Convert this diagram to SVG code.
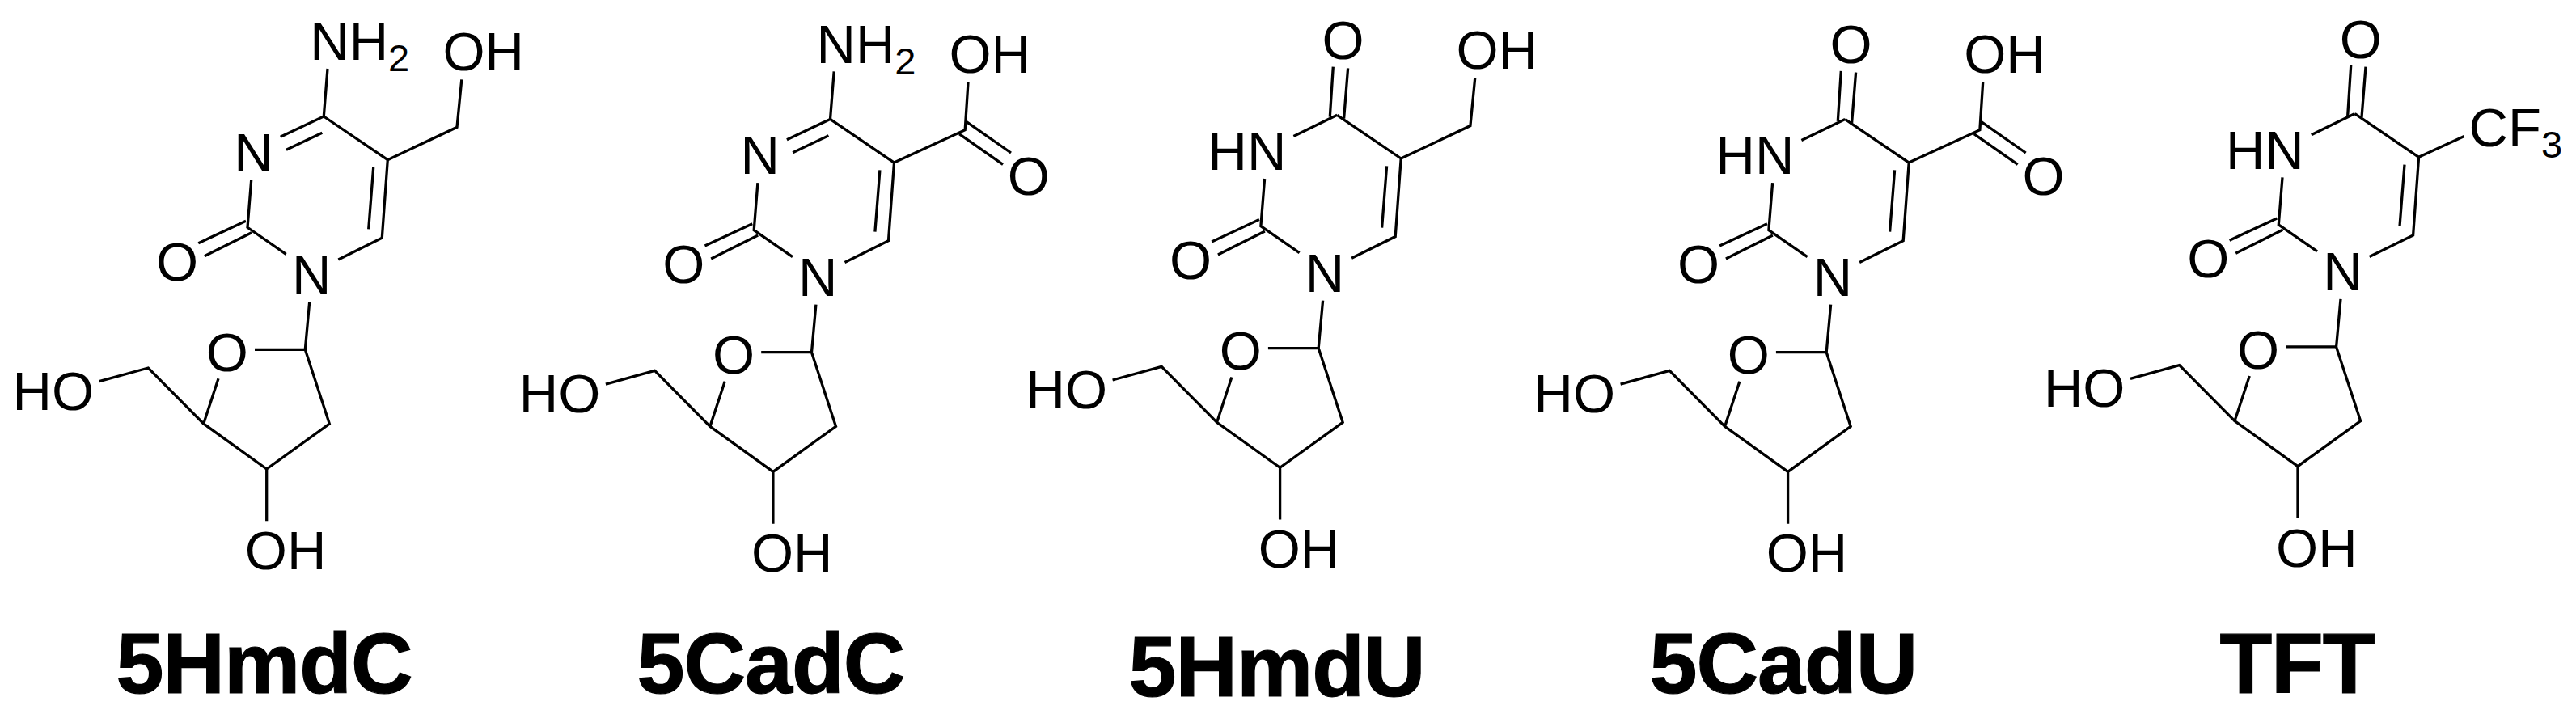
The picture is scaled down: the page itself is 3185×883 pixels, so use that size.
<svg xmlns="http://www.w3.org/2000/svg" width="3185" height="883" viewBox="0 0 3185 883">
<style>
text{font-family:"Liberation Sans",Arial,sans-serif;fill:#000}
.a{font-size:67px}
.s{font-size:47px}
.t{font-size:106px;font-weight:bold;text-anchor:middle;stroke:#000;stroke-width:1.2;letter-spacing:-1px}
.b{fill:none;stroke:#000;stroke-width:3.3;stroke-linejoin:miter;stroke-linecap:butt}
</style>
<defs>
<path id="core" class="b" d="M400.3 144L479.3 197.7L472.3 294.3L418.3 321M461.7 207L455.7 283.3M310.7 222.7L306 281.3L353.7 314.3M304 273.3L245.3 300.7M311 287.7L253 316.7M382.7 373.3L377.3 432.3L315 432.3M377.3 432.3L407.3 524L329.7 580L251.7 524L270 468.3M251.7 524L183.3 455L122.7 471.7M329.7 580V644.3"/>
<path id="cyt" class="b" d="M405 85L400.3 144L346.7 169.3M398.3 164.3L354 185.3"/>
<path id="ura" class="b" d="M395.4 84.4L391.4 146.4M413.7 86.1L408.7 148.4M400.3 144L346.5 170.1"/>
<path id="hm" class="b" d="M479.3 197.7L565 157.3L570.8 98.3"/>
<path id="ca" class="b" d="M479.3 197.7L567 157.3L570.8 98.3M568.8 147.3L623.8 185.6M559.8 162.3L613.8 199.9"/>
</defs>
<g id="connectors">
<g id="bonds-5HmdC"><use href="#core"/><use href="#cyt"/><use href="#hm"/></g>
<g id="bonds-5CadC" transform="translate(626.2 3.4)"><use href="#core"/><use href="#cyt"/><use href="#ca"/></g>
<g id="bonds-5HmdU" transform="translate(1252.9 -1.7)"><use href="#core"/><use href="#ura"/><use href="#hm"/></g>
<g id="bonds-5CadU" transform="translate(1880.9 3.4)"><use href="#core"/><use href="#ura"/><use href="#ca"/></g>
<g id="bonds-TFT" transform="translate(2511.3 -3.4)"><use href="#core"/><use href="#ura"/><path class="b" d="M479.3 197.7L535.4 172"/></g>
</g>
<g id="mol-5HmdC">
<text class="a" x="383.3" y="74.3">NH<tspan class="s" dy="14">2</tspan></text>
<text class="a" x="547.5" y="87">OH</text>
<text class="a" x="289.2" y="212">N</text>
<text class="a" x="193" y="346.5">O</text>
<text class="a" x="360.9" y="362.5">N</text>
<text class="a" x="254.8" y="459">O</text>
<text class="a" x="15.6" y="506.8">HO</text>
<text class="a" x="302.8" y="704">OH</text>
</g>
<g id="mol-5CadC" transform="translate(626.2 3.4)">
<text class="a" x="383.3" y="74.3">NH<tspan class="s" dy="14">2</tspan></text>
<text class="a" x="547.3" y="87">OH</text>
<text class="a" x="619.5" y="237.6">O</text>
<text class="a" x="289.2" y="212">N</text>
<text class="a" x="193" y="346.5">O</text>
<text class="a" x="360.9" y="362.5">N</text>
<text class="a" x="254.8" y="459">O</text>
<text class="a" x="15.6" y="506.8">HO</text>
<text class="a" x="302.8" y="704">OH</text>
</g>
<g id="mol-5HmdU" transform="translate(1252.9 -1.7)">
<text class="a" x="381.5" y="75">O</text>
<text class="a" x="547.5" y="87">OH</text>
<text class="a" x="240.7" y="212">HN</text>
<text class="a" x="193" y="346.5">O</text>
<text class="a" x="360.9" y="362.5">N</text>
<text class="a" x="254.8" y="459">O</text>
<text class="a" x="15.6" y="506.8">HO</text>
<text class="a" x="302.8" y="704">OH</text>
</g>
<g id="mol-5CadU" transform="translate(1880.9 3.4)">
<text class="a" x="381.5" y="75">O</text>
<text class="a" x="547.3" y="87">OH</text>
<text class="a" x="619.5" y="237.6">O</text>
<text class="a" x="240.7" y="212">HN</text>
<text class="a" x="193" y="346.5">O</text>
<text class="a" x="360.9" y="362.5">N</text>
<text class="a" x="254.8" y="459">O</text>
<text class="a" x="15.6" y="506.8">HO</text>
<text class="a" x="302.8" y="704">OH</text>
</g>
<g id="mol-TFT" transform="translate(2511.3 -3.4)">
<text class="a" x="381.5" y="75">O</text>
<text class="a" x="541.3" y="184">CF<tspan class="s" dy="14.4">3</tspan></text>
<text class="a" x="240.7" y="212">HN</text>
<text class="a" x="193" y="346.5">O</text>
<text class="a" x="360.9" y="362.5">N</text>
<text class="a" x="254.8" y="459">O</text>
<text class="a" x="15.6" y="506.8">HO</text>
<text class="a" x="302.8" y="704">OH</text>
</g>
<g id="titles">
<text class="t" x="326.5" y="856.8">5HmdC</text>
<text class="t" x="953" y="856.8">5CadC</text>
<text class="t" x="1578.6" y="860.5">5HmdU</text>
<text class="t" x="2205" y="856.8">5CadU</text>
<text class="t" x="2840" y="856.8">TFT</text>
</g>
</svg>
